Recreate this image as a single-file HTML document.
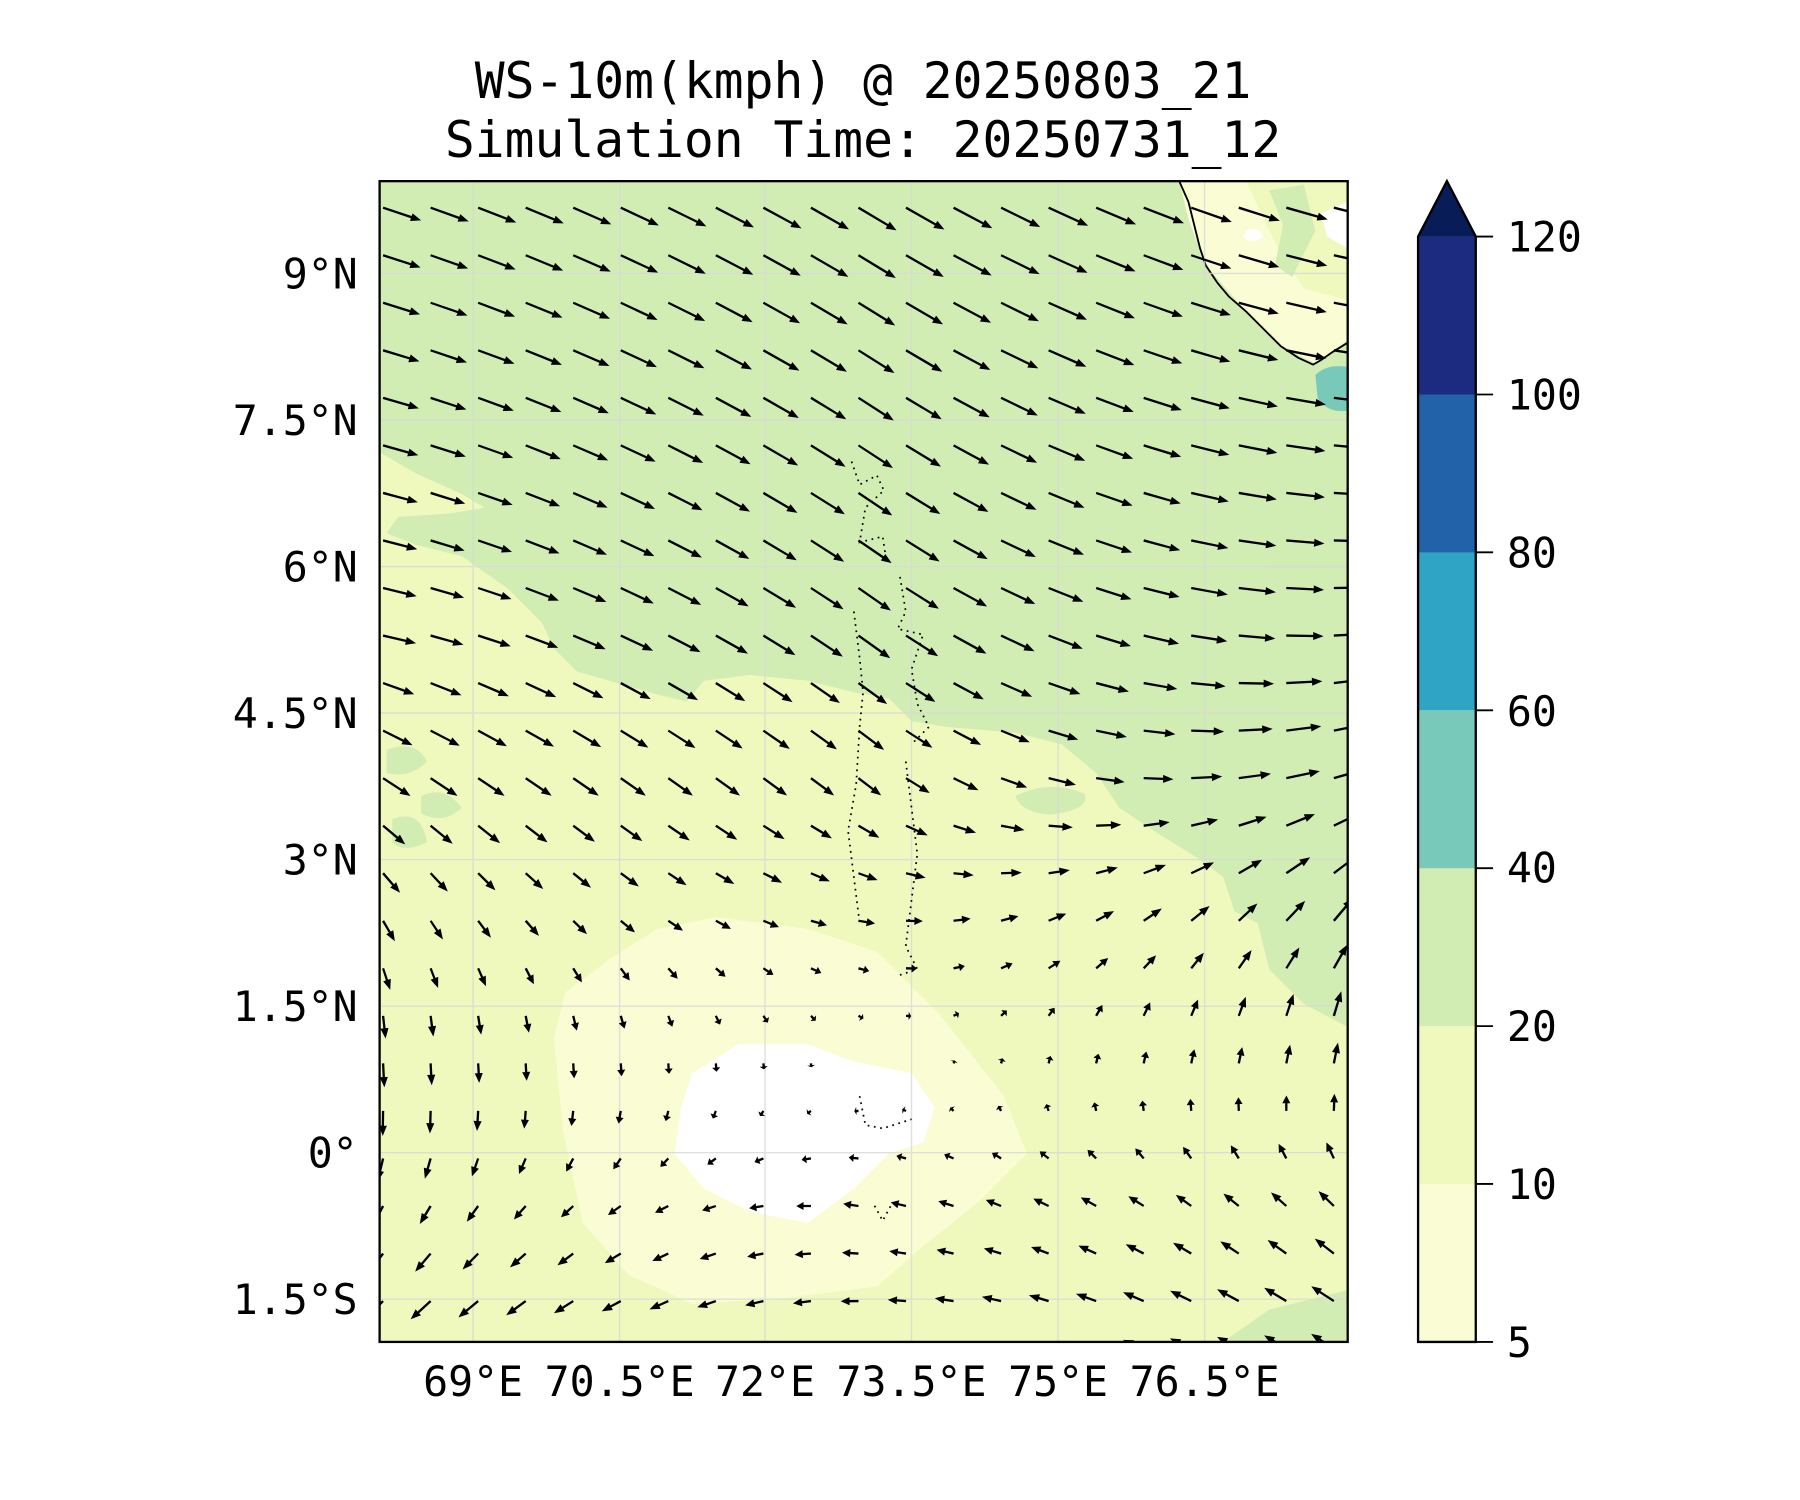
<!DOCTYPE html>
<html><head><meta charset="utf-8"><style>html,body{margin:0;padding:0;background:#fff}svg{display:block}</style></head>
<body>
<svg id="s" xmlns="http://www.w3.org/2000/svg" width="1800" height="1500" viewBox="0 0 1560 1300" font-family="DejaVu Sans Mono, Liberation Mono, monospace">
<defs><clipPath id="ax"><rect x="329" y="157" width="839" height="1006"/></clipPath></defs>
<rect width="1560" height="1300" fill="#fff"/>
<text x="748" y="85" font-size="43" text-anchor="middle">WS-10m(kmph) @ 20250803_21</text>
<text x="748" y="136" font-size="43" text-anchor="middle">Simulation Time: 20250731_12</text>
<g clip-path="url(#ax)">
<rect x="329" y="157" width="839" height="1006" fill="#eff9bd"/>
<path fill="#d1edb4" d="M329,157 L1168,157 L1168,890 L1130,870 L1100,840 L1090,800 L1070,790 L1060,760 L1040,745 L1000,720 L970,700 L950,670 L920,645 L880,635 L820,630 L790,625 L770,605 L740,600 L700,590 L650,585 L610,590 L595,608 L570,602 L500,582 L480,562 L470,540 L440,510 L400,482 L360,472 L335,462 L345,448 L390,445 L420,440 L400,428 L360,410 L329,392 Z"/>
<path fill="#d1edb4" d="M880,690 Q910,675 940,688 Q945,702 910,706 Q885,704 880,690Z"/>
<path fill="#d1edb4" d="M1060,1163 L1100,1135 L1140,1125 L1168,1118 L1168,1163Z"/>
<path fill="#d1edb4" d="M335,650 Q360,640 370,660 Q355,675 335,670Z M340,710 Q365,700 370,730 Q350,740 340,730Z M365,690 Q385,680 400,700 Q385,715 365,705Z"/>
<path fill="#fafdd3" d="M480,900 L490,860 L530,830 L570,805 L620,795 L700,805 L760,825 L815,880 L870,950 L890,1000 L850,1040 L800,1080 L760,1115 L680,1125 L600,1130 L545,1105 L505,1060 L488,980Z"/>
<path fill="#fff" d="M600,930 L640,905 L700,905 L740,920 L790,930 L810,960 L800,990 L770,1000 L740,1030 L700,1060 L650,1050 L610,1030 L585,1000 L590,960Z"/>
<path fill="#fafdd3" d="M1022,157 L1168,157 L1168,295 L1140,315 L1110,300 L1080,270 L1045,230 L1030,190Z"/>
<path fill="#eff9bd" d="M1080,157 L1168,157 L1168,260 L1130,250 L1110,220 L1095,190Z"/>
<path fill="#d1edb4" d="M1100,165 L1130,160 L1140,200 L1120,240 L1105,230 L1112,195Z"/>
<path fill="#fff" d="M1145,185 L1168,175 L1168,215 L1150,205Z M1080,200 Q1090,195 1095,205 Q1085,212 1078,206Z"/>
<path fill="#79c9bb" d="M1140,325 Q1150,315 1168,318 L1168,356 Q1150,358 1142,345Z"/>
<path fill="none" stroke="#000" stroke-width="1.6" d="M1022,157 L1030,175 L1035,195 L1040,215 L1045,230 L1055,245 L1065,257 L1080,270 L1095,285 L1110,300 L1125,310 L1138,316 L1145,312 L1155,305 L1168,297"/>
<g stroke="#d8d8d8" stroke-width="1.2" opacity="0.8">
<line x1="410" y1="157" x2="410" y2="1163"/><line x1="537" y1="157" x2="537" y2="1163"/><line x1="663" y1="157" x2="663" y2="1163"/><line x1="790" y1="157" x2="790" y2="1163"/><line x1="917" y1="157" x2="917" y2="1163"/><line x1="1044" y1="157" x2="1044" y2="1163"/>
<line x1="329" y1="237" x2="1168" y2="237"/><line x1="329" y1="364" x2="1168" y2="364"/><line x1="329" y1="491" x2="1168" y2="491"/><line x1="329" y1="618" x2="1168" y2="618"/><line x1="329" y1="745" x2="1168" y2="745"/><line x1="329" y1="872" x2="1168" y2="872"/><line x1="329" y1="999" x2="1168" y2="999"/><line x1="329" y1="1126" x2="1168" y2="1126"/>
</g>
<g fill="none" stroke="#000" stroke-width="1.5" stroke-dasharray="1.5 4">
<path d="M738,400 L745,420 L760,412 L766,425 L750,440 L745,470 L765,465 L768,485"/>
<path d="M780,500 L785,530 L778,545 L800,550 L790,580 L795,610 L805,630 L790,645"/>
<path d="M740,530 L745,570 L748,600 L745,630 L742,680 L735,720 L740,760 L745,800"/>
<path d="M785,660 L790,700 L795,740 L790,780 L785,820 L795,840 L780,845"/>
<path d="M745,950 L750,975 L765,978 L790,970 M758,1045 L765,1058 L772,1045"/>
</g>
<g id="arrows"></g>
</g>
<rect x="329" y="157" width="839" height="1006" fill="none" stroke="#000" stroke-width="2"/>
<g font-size="36">
<g text-anchor="end">
<text x="310" y="250">9°N</text><text x="310" y="377">7.5°N</text><text x="310" y="504">6°N</text><text x="310" y="631">4.5°N</text><text x="310" y="758">3°N</text><text x="310" y="885">1.5°N</text><text x="310" y="1012">0°</text><text x="310" y="1139">1.5°S</text>
</g>
<g text-anchor="middle">
<text x="410" y="1210">69°E</text><text x="537" y="1210">70.5°E</text><text x="663" y="1210">72°E</text><text x="790" y="1210">73.5°E</text><text x="917" y="1210">75°E</text><text x="1044" y="1210">76.5°E</text>
</g>
</g>
<g>
<rect x="1229" y="1026.1" width="50" height="136.9" fill="#fafdd3"/>
<rect x="1229" y="889.3" width="50" height="136.9" fill="#eff9bd"/>
<rect x="1229" y="752.4" width="50" height="136.9" fill="#d1edb4"/>
<rect x="1229" y="615.6" width="50" height="136.9" fill="#79c9bb"/>
<rect x="1229" y="478.7" width="50" height="136.9" fill="#2fa4c4"/>
<rect x="1229" y="341.9" width="50" height="136.9" fill="#2262a8"/>
<rect x="1229" y="205" width="50" height="136.9" fill="#1c2b7f"/>
<path d="M1229,205 L1254,157 L1279,205Z" fill="#081d58"/>
<path d="M1229,1163 L1229,205 L1254,157 L1279,205 L1279,1163Z" fill="none" stroke="#000" stroke-width="2"/>
<g stroke="#000" stroke-width="1.6">
<line x1="1279" y1="205" x2="1294" y2="205"/><line x1="1279" y1="341.9" x2="1294" y2="341.9"/><line x1="1279" y1="478.7" x2="1294" y2="478.7"/><line x1="1279" y1="615.6" x2="1294" y2="615.6"/><line x1="1279" y1="752.4" x2="1294" y2="752.4"/><line x1="1279" y1="889.3" x2="1294" y2="889.3"/><line x1="1279" y1="1026.1" x2="1294" y2="1026.1"/><line x1="1279" y1="1163" x2="1294" y2="1163"/>
</g>
<g font-size="36">
<text x="1306" y="218">120</text><text x="1306" y="355">100</text><text x="1306" y="492">80</text><text x="1306" y="629">60</text><text x="1306" y="765">40</text><text x="1306" y="902">20</text><text x="1306" y="1039">10</text><text x="1306" y="1176">5</text>
</g>
</g>
</svg>
<script>
(function(){
var ys=[180,550,670,790,880,960,1044,1128,1200];
var K=[
[[30,10],[30,18],[33,8]],
[[26,6],[25,18],[30,-2]],
[[22,14],[18,14],[28,-8]],
[[10,16],[14,2],[16,-18]],
[[2,18],[4,2],[6,-20]],
[[0,20],[-3,0],[1,-14]],
[[-8,16],[-12,-2],[-12,-12]],
[[-16,16],[-14,0],[-18,-12]],
[[-16,16],[-14,0],[-18,-12]]];
var xs=[330,750,1168];
function lerp(a,b,t){return a+(b-a)*t;}
function field(x,y){
 var i=0;while(i<ys.length-2&&y>ys[i+1])i++;
 var ty=Math.max(0,Math.min(1,(y-ys[i])/(ys[i+1]-ys[i])));
 var j=x<750?0:1; var tx=Math.max(0,Math.min(1,(x-xs[j])/(xs[j+1]-xs[j])));
 var r=[];for(var c=0;c<2;c++){
  var a=lerp(K[i][j][c],K[i][j+1][c],tx),b=lerp(K[i+1][j][c],K[i+1][j+1][c],tx);
  r.push(1.1*lerp(a,b,ty));}
 return r;}
var g=document.getElementById('arrows'),out='';
for(var r=0;r<25;r++){var y=180+r*41.2;
 for(var c=0;c<21;c++){var x=332+c*41.2;
  var f=field(x,y),u=f[0],v=f[1],L=Math.sqrt(u*u+v*v);if(L<1.5)continue;
  var ux=u/L,uy=v/L,px=-uy,py=ux,hl=Math.min(9,L*0.5),hw=3.5,sw=1;
  var bx=x+ux*(L-hl),by=y+uy*(L-hl),ex=x+ux*L,ey=y+uy*L;
  var pts=[[x+px*sw,y+py*sw],[bx+px*sw,by+py*sw],[bx+px*hw,by+py*hw],[ex,ey],[bx-px*hw,by-py*hw],[bx-px*sw,by-py*sw],[x-px*sw,y-py*sw]];
  out+='<polygon points="'+pts.map(function(p){return p[0].toFixed(1)+','+p[1].toFixed(1)}).join(' ')+'"/>';
 }}
g.innerHTML=out;g.setAttribute('fill','#000');
})();
</script>
</body></html>
